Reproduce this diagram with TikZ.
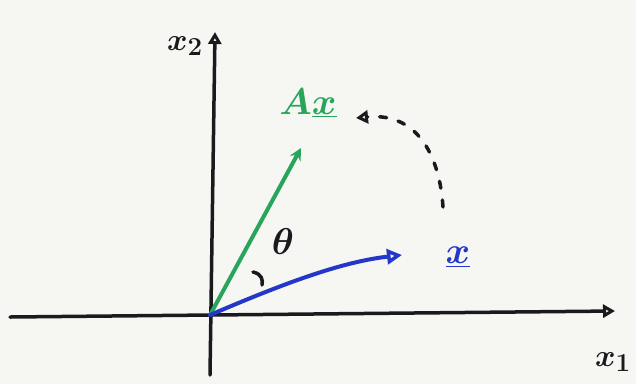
\documentclass[tikz,border=0pt]{standalone}
\usetikzlibrary{arrows.meta}
\definecolor{pgreen}{RGB}{40,165,90}
\definecolor{pblue}{RGB}{35,55,200}
\definecolor{pink}{RGB}{25,25,30}
\definecolor{paper}{RGB}{246,246,243}
\newcommand{\handlbl}[1]{\scalebox{1.5}{\Huge\boldmath$#1$}}
\newcommand{\handsm}[1]{\scalebox{1.25}{\Huge\boldmath$#1$}}
\begin{document}
\begin{tikzpicture}[x=1pt,y=-1pt,
  axis/.style={draw=pink,line width=3.5pt,line cap=round,-{Triangle[open,length=12pt,width=13pt,line width=3pt]}},
  vec/.style={line width=4pt,line cap=round},
  lbl/.style={inner sep=0pt}]
\useasboundingbox (0,0) rectangle (636,384);
\fill[paper] (0,0) rectangle (636,384);
\coordinate (O) at (210,315);
\coordinate (xs) at (10,317);
\coordinate (xe) at (615,311);
\coordinate (ys) at (210,375);
\coordinate (ye) at (215,32);
\draw[axis] (xs) -- (xe);
\draw[axis] (ys) -- (ye);
\node[lbl,text=pink] (x2) at (185,46) {\handsm{x_{\scriptstyle 2}}};
\node[lbl,text=pink] (x1) at (613,362) {\handsm{x_{\scriptstyle 1}}};
% green vector
\coordinate (A) at (301,148);
\draw[vec,draw=pgreen,-{Stealth[length=12pt,width=12pt]}] (O) -- (A);
\node[lbl,text=pgreen] (Ax) at (308,103) {\handlbl{A\underline{x}}};
% blue vector
\coordinate (B) at (402,255);
\draw[vec,draw=pblue,-{Triangle[open,length=15pt,width=15pt,line width=3.5pt]}] (O) .. controls (280,285) and (340,262) .. (B);
\node[lbl,text=pblue] (xl) at (458,257) {\handlbl{\underline{x}}};
% rotation
\coordinate (r1) at (443,207);
\coordinate (r2) at (356,118);
\draw[pink,line width=3.5pt,dash pattern=on 7pt off 12pt,line cap=round,-{Triangle[open,length=12pt,width=13pt,line width=3.5pt]}]
  (r1) .. controls (440,160) and (420,112) .. (r2);
% angle
\draw[pink,line width=3.5pt,line cap=round] (253,272) .. controls (262,274) and (263,280) .. (262,285);
\node[lbl,text=pink] (th) at (283,242) {\handlbl{\theta}};
\end{tikzpicture}
\end{document}
